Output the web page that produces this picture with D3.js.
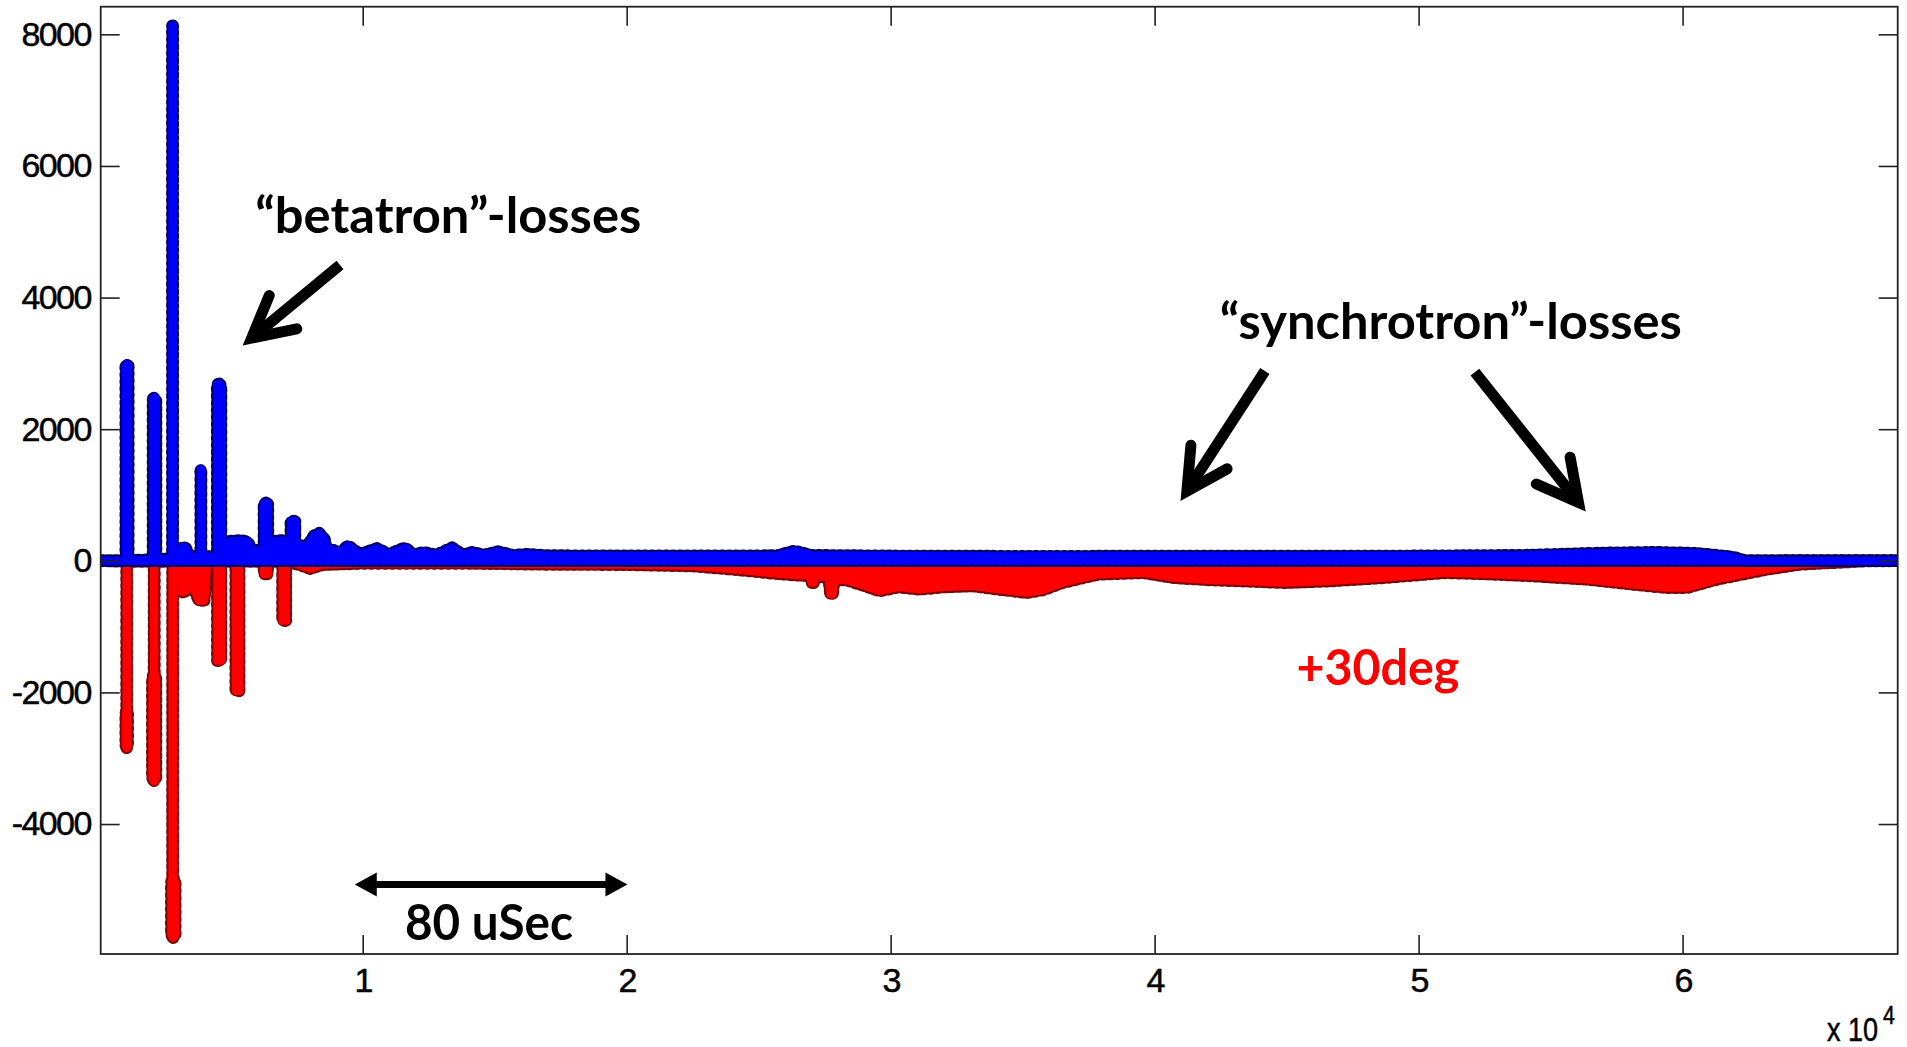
<!DOCTYPE html>
<html>
<head>
<meta charset="utf-8">
<script src="https://cdn.jsdelivr.net/npm/d3@7"></script>
<style>
  html, body { margin: 0; padding: 0; background: #fff; }
  svg { display: block; }
  .axis text { font-family: "Liberation Sans", Arial, Helvetica, sans-serif; font-size: 34px; letter-spacing: -1.6px; fill: #000; stroke: #000; stroke-width: 0.5px; }
  .axis line { stroke: #222; stroke-width: 1.6px; }
  .note { font-family: Lato, "Open Sans", sans-serif; font-weight: 700; }
</style>
</head>
<body>
<svg id="chart" width="1907" height="1047"></svg>
<script>
// Beam-loss monitor signal vs. turn number (two channels).
// Each series is the envelope of the recorded signal: [turn, signal].
const blueLoss = [
  [75, 0],
  [1025, 0], [1025, 2950], [1070, 2990], [1120, 2960], [1120, 20],
  [1500, 10], [2057, 20], [2057, 2460], [2110, 2480], [2170, 2450], [2170, 30],
  [2790, 30], [2790, 8130], [2805, 8130], [2805, 80],
  [3000, 120], [3150, 210], [3300, 190], [3450, 70],
  [3864, 60], [3864, 1390], [3876, 1390], [3876, 80],
  [4300, 60], [4490, 60], [4490, 2680], [4560, 2690], [4633, 2670], [4633, 300],
  [4800, 280], [5000, 300], [5400, 310], [5650, 290], [5800, 140], [6000, 160],
  [6260, 150], [6260, 870], [6330, 880], [6410, 860], [6410, 250],
  [6600, 300], [7000, 310], [7280, 280], [7280, 600], [7360, 610], [7436, 600], [7436, 230],
  [7600, 240], [7900, 220], [8150, 380], [8350, 420], [8550, 330], [8650, 150],
  [8826, 180], [9100, 110], [9443, 230], [9900, 100], [10542, 190], [11000, 100],
  [11602, 200], [11950, 90], [12284, 130], [12800, 90], [13383, 200], [13800, 90],
  [14140, 130], [14600, 90], [15125, 140], [15700, 85], [16223, 100], [17000, 80],
  [20000, 75], [24000, 75], [25700, 80], [26350, 150], [27000, 85], [30000, 75],
  [35000, 70], [40000, 72], [45000, 72], [50000, 75], [54000, 85], [57000, 120],
  [59000, 130], [60500, 115], [61900, 60], [62400, 0], [68150, 0]
];

const redLoss = [
  [75, 0], [900, -10],
  [1055, -10], [1055, -2260], [1023, -2330], [1023, -2800], [1060, -2845], [1099, -2800], [1099, -2330], [1068, -2260], [1068, -10],
  [1600, -10],
  [2095, -10], [2095, -1700], [2030, -1800], [2030, -3300], [2100, -3350], [2170, -3300], [2170, -1800], [2110, -1700], [2110, -10],
  [2795, -10], [2795, -4800], [2750, -4900], [2750, -5680], [2820, -5730], [2900, -5680], [2900, -4900], [2810, -4800], [2810, -20],
  [3050, -150], [3150, -480], [3300, -460], [3450, -340], [3600, -420], [3800, -610], [4000, -600], [4100, -100], [4250, -10],
  [4492, -10], [4492, -1520], [4633, -1520], [4633, -10],
  [5190, -10], [5190, -1980], [5320, -1980], [5320, -10],
  [6261, -10], [6261, -200], [6401, -200], [6401, -10],
  [6960, -10], [6960, -910], [7090, -910], [7090, -10],
  [7600, -60], [8004, -120], [8500, -60], [10000, -40], [14000, -40], [17000, -55],
  [20000, -60], [22500, -80], [24000, -130], [24800, -160], [25500, -190], [26350, -217],
  [26950, -230], [27000, -334], [27080, -334], [27130, -240], [27650, -250],
  [27720, -511], [27800, -511], [27870, -280], [28383, -300],
  [29000, -380], [29576, -460], [30300, -400], [31095, -435], [32000, -400],
  [33117, -384], [34000, -430], [35163, -486], [35800, -440], [36508, -334],
  [37852, -207], [39557, -182], [40731, -258], [42000, -290], [43269, -308],
  [44973, -334], [46640, -308], [48686, -258], [51034, -182], [52500, -200],
  [54330, -232], [56375, -283], [58117, -359], [59405, -410], [60163, -410],
  [61299, -283], [63193, -131], [64443, -55], [66981, -4], [68150, 0]
];

const xDomain = [75, 68150];
const yDomain = [-5975, 8420];
const xTicks = [10000, 20000, 30000, 40000, 50000, 60000];
const xTickLabels = ["1", "2", "3", "4", "5", "6"];
const yTicks = [-4000, -2000, 0, 2000, 4000, 6000, 8000];

// Plot frame in pixels
const frame = { left: 100.7, top: 6.7, right: 1897.7, bottom: 954 };

const svg = d3.select("#chart");
const x = d3.scaleLinear().domain(xDomain).range([frame.left, frame.right]);
const y = d3.scaleLinear().domain(yDomain).range([frame.bottom, frame.top]);

svg.append("defs").append("clipPath").attr("id", "plotClip")
  .append("rect")
  .attr("x", frame.left).attr("y", frame.top)
  .attr("width", frame.right - frame.left).attr("height", frame.bottom - frame.top);

const plot = svg.append("g").attr("clip-path", "url(#plotClip)");

const area = d3.area()
  .x(d => x(d[0]))
  .y0(y(0))
  .y1(d => y(d[1]))
  .curve(d3.curveLinear);

// Thick '-*' trace: serrated dark marker rim, solid dark edge, then the colour fill
function drawSeries(data, fill, rim) {
  const g = plot.append("g");
  g.append("path").datum(data).attr("d", area)
    .attr("fill", rim).attr("stroke", rim).attr("stroke-width", 12.5)
    .attr("stroke-dasharray", "2.5 4.5").attr("stroke-linecap", "round")
    .attr("stroke-linejoin", "round");
  g.append("path").datum(data).attr("d", area)
    .attr("fill", rim).attr("stroke", rim).attr("stroke-width", 10)
    .attr("stroke-linejoin", "round");
  g.append("path").datum(data).attr("d", area)
    .attr("fill", fill).attr("stroke", fill).attr("stroke-width", 8)
    .attr("stroke-linejoin", "round");
}

drawSeries(redLoss, "#ff0000", "#7a0a0a");
drawSeries(blueLoss, "#0000ff", "#000066");

// Axes (ticks pointing into the plot on all four sides)
const tickLen = -19;
svg.append("g").attr("class", "axis")
  .attr("transform", `translate(0,${frame.bottom})`)
  .call(d3.axisBottom(x).tickValues(xTicks).tickFormat((d, i) => xTickLabels[i])
    .tickSizeInner(tickLen).tickSizeOuter(0).tickPadding(14))
  .call(g => g.select(".domain").remove());

svg.append("g").attr("class", "axis")
  .attr("transform", `translate(0,${frame.top})`)
  .call(d3.axisTop(x).tickValues(xTicks).tickFormat("")
    .tickSizeInner(tickLen).tickSizeOuter(0))
  .call(g => g.select(".domain").remove());

svg.append("g").attr("class", "axis")
  .attr("transform", `translate(${frame.left},0)`)
  .call(d3.axisLeft(y).tickValues(yTicks).tickFormat(d => String(d))
    .tickSizeInner(tickLen).tickSizeOuter(0).tickPadding(10))
  .call(g => g.select(".domain").remove());

svg.append("g").attr("class", "axis")
  .attr("transform", `translate(${frame.right},0)`)
  .call(d3.axisRight(y).tickValues(yTicks).tickFormat("")
    .tickSizeInner(tickLen).tickSizeOuter(0))
  .call(g => g.select(".domain").remove());

svg.append("rect")
  .attr("x", frame.left).attr("y", frame.top)
  .attr("width", frame.right - frame.left).attr("height", frame.bottom - frame.top)
  .attr("fill", "none").attr("stroke", "#222").attr("stroke-width", 1.8);

// Exponent label of the turn axis (one text element, superscript as a tspan)
const expo = svg.append("g").attr("transform", "translate(1827,1041) scale(0.82,1)")
  .append("text")
  .attr("x", 0).attr("y", 0)
  .attr("font-family", "Liberation Sans, Arial, sans-serif").attr("font-size", 33)
  .attr("stroke", "#000").attr("stroke-width", 0.5);
expo.append("tspan").text("x 10");
expo.append("tspan").attr("dx", 6).attr("dy", -17).attr("font-size", 26).text("4");

// Annotations, anchored in data coordinates
function note(txt, tx, ty, width, size, color) {
  svg.append("text").attr("class", "note")
    .attr("x", x(tx)).attr("y", y(ty))
    .attr("font-size", size).attr("fill", color)
    .attr("textLength", width).attr("lengthAdjust", "spacingAndGlyphs")
    .text(txt);
}

function arrow(from, to) {
  const x0 = x(from[0]), y0 = y(from[1]);
  const x1 = x(to[0]), y1 = y(to[1]);
  const ang = Math.atan2(y0 - y1, x0 - x1);
  const wing = 46, spread = 28 * Math.PI / 180;
  const g = svg.append("g").attr("stroke", "#000").attr("fill", "none").attr("stroke-width", 11);
  g.append("line").attr("x1", x0).attr("y1", y0).attr("x2", x1).attr("y2", y1)
    .attr("stroke-linecap", "butt");
  const w1 = [x1 + wing * Math.cos(ang + spread), y1 + wing * Math.sin(ang + spread)];
  const w2 = [x1 + wing * Math.cos(ang - spread), y1 + wing * Math.sin(ang - spread)];
  g.append("path").attr("d", `M${w1[0]},${w1[1]}L${x1},${y1}L${w2[0]},${w2[1]}`)
    .attr("stroke-linejoin", "miter").attr("stroke-miterlimit", 10).attr("stroke-linecap", "round");
}

function span(fromX, toX, atY) {
  const xa = x(fromX), xb = x(toX), yy = y(atY);
  const head = 22, half = 12;
  svg.append("line").attr("x1", xa + head - 2).attr("x2", xb - head + 2)
    .attr("y1", yy).attr("y2", yy).attr("stroke", "#000").attr("stroke-width", 7);
  svg.append("path")
    .attr("d", `M${xa},${yy}L${xa + head},${yy - half}L${xa + head},${yy + half}Z`
      + `M${xb},${yy}L${xb - head},${yy - half}L${xb - head},${yy + half}Z`)
    .attr("fill", "#000");
}

note("\u201Cbetatron\u201D-losses", 5930, 4985, 386, 49, "#000");
arrow([9140, 4494], [5795, 3385]);

note("\u201Csynchrotron\u201D-losses", 42470, 3371, 462, 49, "#000");
arrow([44178, 2883], [41223, 1059]);
arrow([52133, 2868], [56057, 887]);

note("+30deg", 45371, -1885, 163, 49, "#ff0000");

span(9700, 20030, -4917);
note("80 uSec", 11602, -5765, 168, 49, "#000");
</script>
</body>
</html>
